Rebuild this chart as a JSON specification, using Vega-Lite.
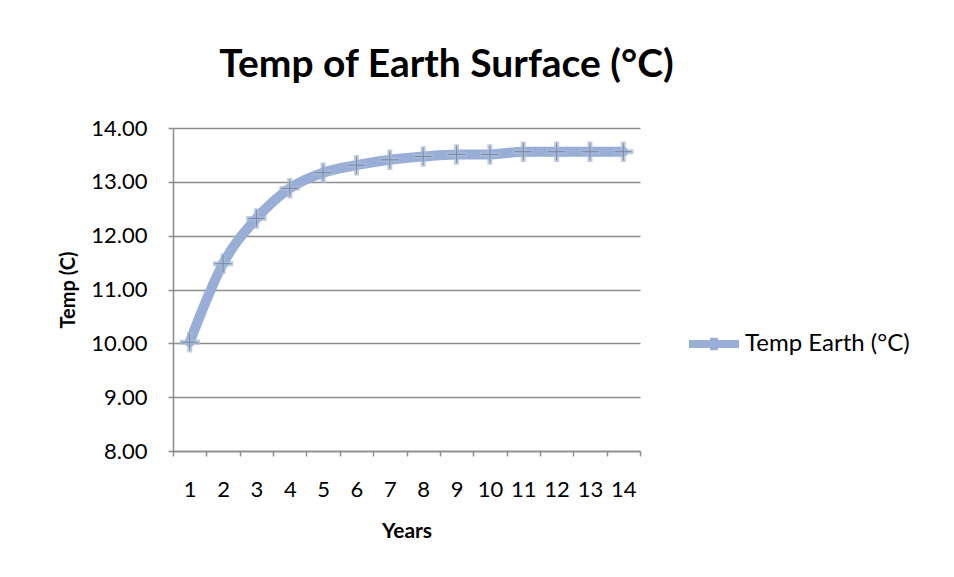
{
  "$schema": "https://vega.github.io/schema/vega-lite/v6.json",
  "autosize": "none",
  "width": 467,
  "height": 323,
  "padding": {"left": 173, "top": 128, "right": 314, "bottom": 126},
  "background": "white",
  "config": {
    "font": "Lato",
    "view": {"stroke": null}
  },
  "title": {
    "text": "Temp of Earth Surface (°C)",
    "fontSize": 39,
    "fontWeight": "bold",
    "font": "Lato",
    "color": "#000000",
    "anchor": "middle",
    "dx": 40,
    "offset": 32
  },
  "data": {
    "values": [
      {"year": 1, "temp": 10.02, "series": "Temp Earth (°C)"},
      {"year": 2, "temp": 11.48, "series": "Temp Earth (°C)"},
      {"year": 3, "temp": 12.32, "series": "Temp Earth (°C)"},
      {"year": 4, "temp": 12.88, "series": "Temp Earth (°C)"},
      {"year": 5, "temp": 13.17, "series": "Temp Earth (°C)"},
      {"year": 6, "temp": 13.31, "series": "Temp Earth (°C)"},
      {"year": 7, "temp": 13.41, "series": "Temp Earth (°C)"},
      {"year": 8, "temp": 13.47, "series": "Temp Earth (°C)"},
      {"year": 9, "temp": 13.51, "series": "Temp Earth (°C)"},
      {"year": 10, "temp": 13.51, "series": "Temp Earth (°C)"},
      {"year": 11, "temp": 13.56, "series": "Temp Earth (°C)"},
      {"year": 12, "temp": 13.56, "series": "Temp Earth (°C)"},
      {"year": 13, "temp": 13.56, "series": "Temp Earth (°C)"},
      {"year": 14, "temp": 13.56, "series": "Temp Earth (°C)"}
    ]
  },
  "encoding": {
    "x": {
      "field": "year",
      "type": "ordinal",
      "sort": null,
      "scale": {"paddingInner": 0, "paddingOuter": 0},
      "axis": {
        "title": "Years",
        "titleFontSize": 21,
        "titleFontWeight": "bold",
        "titleColor": "#000000",
        "titlePadding": 20,
        "labelAngle": 0,
        "labelFontSize": 22,
        "labelColor": "#000000",
        "labelPadding": 23,
        "tickBand": "extent",
        "tickSize": 5,
        "tickColor": "#8c8c8c",
        "tickWidth": 1.5,
        "domainColor": "#8c8c8c",
        "domainWidth": 1.5,
        "grid": false
      }
    },
    "y": {
      "field": "temp",
      "type": "quantitative",
      "scale": {"domain": [8, 14], "nice": false, "zero": false},
      "axis": {
        "title": "Temp (C)",
        "titleFontSize": 20,
        "titleFontWeight": "bold",
        "titleColor": "#000000",
        "titlePadding": 12,
        "values": [8, 9, 10, 11, 12, 13, 14],
        "format": ".2f",
        "labelFontSize": 22,
        "labelColor": "#000000",
        "labelPadding": 21,
        "tickSize": 5,
        "tickColor": "#8c8c8c",
        "tickWidth": 1.5,
        "domainColor": "#8c8c8c",
        "domainWidth": 1.5,
        "grid": true,
        "gridColor": "#8c8c8c",
        "gridWidth": 1.5
      }
    }
  },
  "layer": [
    {
      "mark": {"type": "line", "strokeWidth": 10, "interpolate": "monotone", "strokeCap": "round"},
      "encoding": {
        "color": {
          "field": "series",
          "type": "nominal",
          "scale": {"range": ["#98aed6"]},
          "legend": {
            "title": null,
            "orient": "none",
            "legendX": 512,
            "legendY": 187,
            "labelFontSize": 24,
            "labelLimit": 400,
            "labelColor": "#000000",
            "symbolType": "M-1,0H1M0,-0.25V0.25",
            "symbolSize": 2500,
            "symbolStrokeWidth": 8,
            "labelOffset": 2
          }
        }
      }
    },
    {
      "mark": {"type": "point", "shape": "M-1,0H1M0,-1V1", "size": 420, "strokeWidth": 5, "color": "#a9bad8", "opacity": 0.75, "filled": false}
    },
    {
      "mark": {"type": "point", "shape": "M-1,0H1M0,-1V1", "size": 300, "strokeWidth": 1, "color": "#6f7e9c", "opacity": 0.8, "filled": false}
    }
  ]
}
